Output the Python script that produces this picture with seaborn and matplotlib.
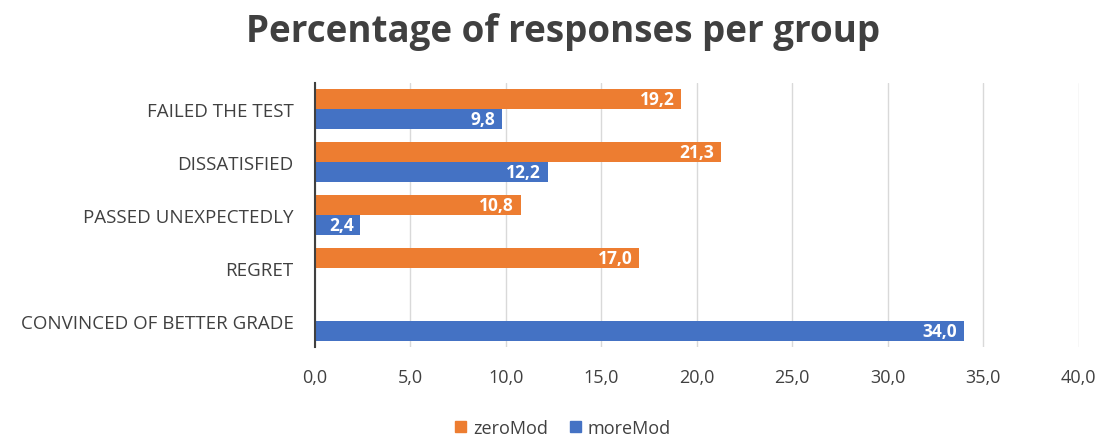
import pandas as pd
import seaborn as sns
import matplotlib.pyplot as plt

# =========================
# DATA
# =========================

CATEGORIES = [
    "FAILED THE TEST",
    "DISSATISFIED",
    "PASSED UNEXPECTEDLY",
    "REGRET",
    "CONVINCED OF BETTER GRADE",
]
ZERO_MOD = [19.2, 21.3, 10.8, 17.0, 0.0]
MORE_MOD = [9.8, 12.2, 2.4, 0.0, 34.0]
GROUPS = ["zeroMod", "moreMod"]
COLORS = ["#ED7D31", "#4472C4"]
XTICKS = [0, 5, 10, 15, 20, 25, 30, 35, 40]

df = pd.DataFrame({
    "category": CATEGORIES * 2,
    "value": ZERO_MOD + MORE_MOD,
    "group": [GROUPS[0]] * len(CATEGORIES) + [GROUPS[1]] * len(CATEGORIES),
})

# =========================
# PLOT
# =========================

sns.set_style("white")
plt.rcParams["font.family"] = ["Open Sans", "DejaVu Sans"]

fig = plt.figure(figsize=(11.04, 4.39), dpi=100)
ax = fig.add_axes([0.285, 0.207, 0.692, 0.602])

sns.barplot(
    data=df,
    x="value",
    y="category",
    hue="group",
    hue_order=GROUPS,
    palette=COLORS,
    orient="h",
    width=0.76,
    saturation=1,
    linewidth=0,
    legend=False,
    ax=ax,
)

# value labels, white, right-aligned inside the bar end
for cont in ax.containers:
    labels = [f"{b.get_width():.1f}".replace(".", ",") if b.get_width() > 0 else ""
              for b in cont]
    texts = ax.bar_label(cont, labels=labels, label_type="edge", padding=-5,
                         color="white", fontsize=12.5, fontweight="bold")
    for t in texts:
        t.set_ha("right")

ax.set_xlim(0, 40)
ax.set_xticks(XTICKS)
ax.set_xticklabels([f"{t:.1f}".replace(".", ",") for t in XTICKS],
                   fontsize=13, color="#404040")
ax.tick_params(axis="y", labelsize=13.5, labelcolor="#404040", length=0, pad=15)
ax.tick_params(axis="x", length=0, pad=15)
ax.set_xlabel("")
ax.set_ylabel("")
ax.set_ylim(4.5, -0.5)

ax.xaxis.grid(True, color="#D9D9D9", linewidth=1)
ax.set_axisbelow(True)
for side in ["top", "right", "bottom"]:
    ax.spines[side].set_visible(False)
ax.spines["left"].set_color("#404040")
ax.spines["left"].set_linewidth(1.5)

fig.suptitle("Percentage of responses per group", x=0.51, y=0.97,
             fontsize=26.5, fontweight="bold", color="#404040")

handles = [plt.Rectangle((0, 0), 1, 1, color=c) for c in COLORS]
fig.legend(handles, GROUPS, loc="lower center", bbox_to_anchor=(0.51, -0.035),
           ncol=2, frameon=False, fontsize=13, handlelength=0.6,
           handleheight=0.6, handletextpad=0.4, columnspacing=1.2,
           labelcolor="#404040")

plt.savefig("out.png", dpi=100)
plt.close()
